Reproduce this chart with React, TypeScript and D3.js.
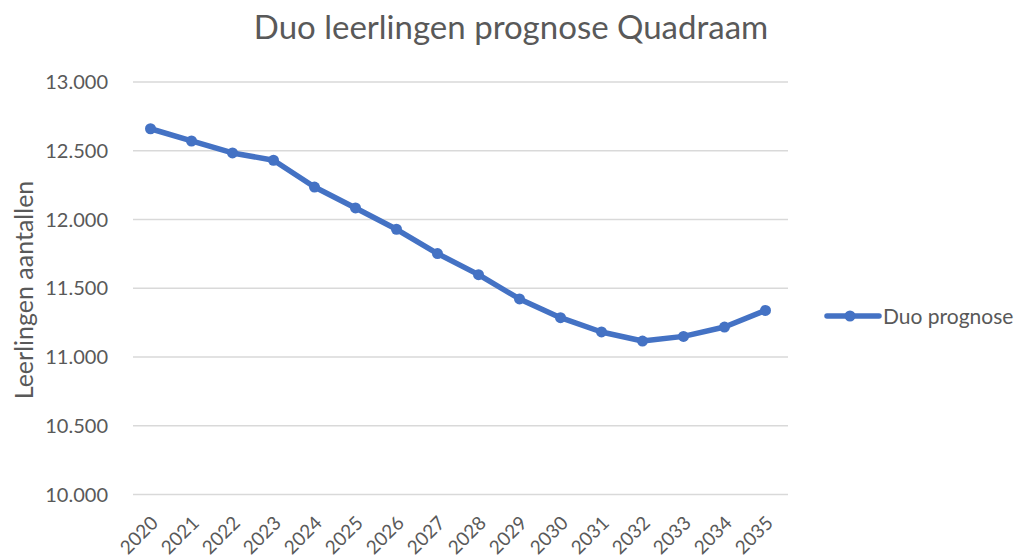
import React from 'react'
import * as d3 from 'd3'

const years = ['2020', '2021', '2022', '2023', '2024', '2025', '2026', '2027', '2028', '2029', '2030', '2031', '2032', '2033', '2034', '2035']
const duoPrognose = [12660, 12571, 12484, 12431, 12236, 12084, 11929, 11752, 11599, 11422, 11286, 11182, 11116, 11150, 11218, 11339]
const yTicks = [10000, 10500, 11000, 11500, 12000, 12500, 13000]
const seriesName = 'Duo prognose'

const W = 1026
const H = 559
const left = 130
const right = 786
const top = 82
const bottom = 494.5
const font = 'Lato, "Open Sans", sans-serif'
const textColor = '#595959'
const blue = '#4472C4'

// dutch thousands separator
const fmt = (v: number) => d3.format(',')(v).replace(/,/g, '.')

export default function App() {
  const x = d3.scaleBand().domain(years).range([left, right])
  const y = d3.scaleLinear().domain([10000, 13000]).range([bottom, top])
  const cx = (d: string) => (x(d) ?? 0) + x.bandwidth() / 2

  const line = d3.line<number>()
    .x((_, i) => cx(years[i]))
    .y(d => y(d))

  return (
    <svg width={W} height={H} style={{ position: 'absolute', left: 0, top: 0, background: '#fff' }} fontFamily={font}>
      <text x={511} y={39} textAnchor="middle" fontSize={33} fill={textColor}>Duo leerlingen prognose Quadraam</text>

      {yTicks.map(t => (
        <g key={t}>
          <line x1={left + 3} x2={right + 2} y1={y(t)} y2={y(t)} stroke="#d9d9d9" strokeWidth={1.3} />
          <text x={108} y={y(t)} dy="0.36em" textAnchor="end" fontSize={20} fill={textColor}>{fmt(t)}</text>
        </g>
      ))}

      <text transform={`translate(33,290) rotate(-90)`} textAnchor="middle" fontSize={25} fill={textColor}>Leerlingen aantallen</text>

      {years.map(d => (
        <text key={d} transform={`translate(${cx(d) + 4},${bottom + 25}) rotate(-45)`} textAnchor="end" dy="0.35em" fontSize={19} fill={textColor}>{d}</text>
      ))}

      <path d={line(duoPrognose) ?? ''} fill="none" stroke={blue} strokeWidth={5.5} strokeLinejoin="round" strokeLinecap="round" />
      {duoPrognose.map((v, i) => (
        <circle key={years[i]} cx={cx(years[i])} cy={y(v)} r={5.5} fill={blue} />
      ))}

      <line x1={827} x2={879} y1={316} y2={316} stroke={blue} strokeWidth={5.5} strokeLinecap="round" />
      <circle cx={850} cy={316} r={5.5} fill={blue} />
      <text x={883} y={316} dy="0.36em" fontSize={21} fill={textColor}>{seriesName}</text>
    </svg>
  )
}
